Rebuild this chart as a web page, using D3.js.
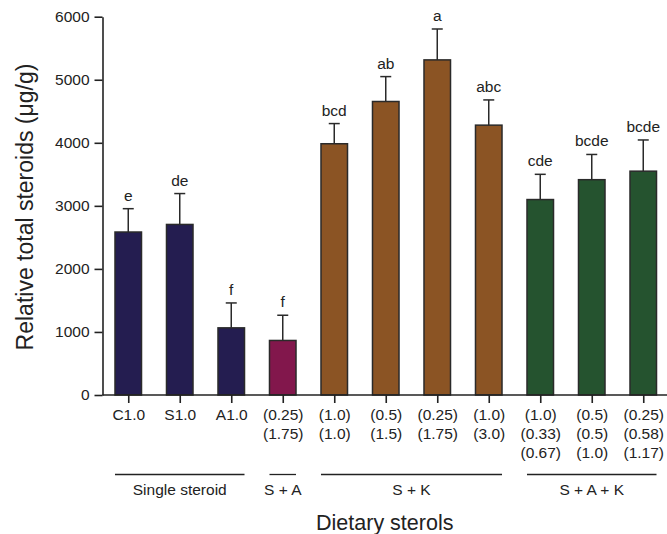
<!DOCTYPE html>
<html>
<head>
<meta charset="utf-8">
<script src="https://cdn.jsdelivr.net/npm/d3@7"></script>
<style>
  body { margin: 0; background: #fff; }
  text { font-family: "Liberation Sans", Arial, sans-serif; fill: #222; }
  .axis path, .axis line { stroke: #222; stroke-width: 1.6; }
</style>
</head>
<body>
<svg id="chart"></svg>
<script>
const width = 667, height = 534;
const margin = { top: 16.7, left: 102.5, bottom: 139, right: 0 };

const categories = ["c1", "s1", "a1", "sa1", "sk1", "sk2", "sk3", "sk4", "sak1", "sak2", "sak3"];
const tickLines = [
  ["C1.0"], ["S1.0"], ["A1.0"],
  ["(0.25)", "(1.75)"],
  ["(1.0)", "(1.0)"], ["(0.5)", "(1.5)"], ["(0.25)", "(1.75)"], ["(1.0)", "(3.0)"],
  ["(1.0)", "(0.33)", "(0.67)"], ["(0.5)", "(0.5)", "(1.0)"], ["(0.25)", "(0.58)", "(1.17)"]
];
const means = [2585, 2705, 1065, 865, 3985, 4655, 5315, 4280, 3100, 3415, 3550];
const errors = [370, 490, 395, 400, 320, 395, 490, 400, 400, 400, 495];
const letters = ["e", "de", "f", "f", "bcd", "ab", "a", "abc", "cde", "bcde", "bcde"];
const groupOf = ["single", "single", "single", "sa", "sk", "sk", "sk", "sk", "sak", "sak", "sak"];
const groups = [
  { key: "single", label: "Single steroid" },
  { key: "sa", label: "S + A" },
  { key: "sk", label: "S + K" },
  { key: "sak", label: "S + A + K" }
];
const colors = { single: "#241d50", sa: "#82174c", sk: "#8b5424", sak: "#25532f" };

const data = categories.map((c, i) => ({
  id: c, mean: means[i], err: errors[i], letter: letters[i], group: groupOf[i], lines: tickLines[i]
}));

const svg = d3.select("#chart").attr("width", width).attr("height", height);

const x = d3.scalePoint().domain(categories).range([margin.left, 669]).padding(0.5);
const barW = x.step() * 0.515;
const y = d3.scaleLinear().domain([0, 6000]).range([395, margin.top]);

// bars
svg.selectAll(".bar")
  .data(data)
  .enter()
  .append("rect")
  .attr("class", "bar")
  .attr("x", (d) => x(d.id) - barW / 2)
  .attr("y", (d) => y(d.mean))
  .attr("width", barW)
  .attr("height", (d) => y(0) - y(d.mean))
  .attr("fill", (d) => colors[d.group])
  .attr("stroke", "#2a2a2a")
  .attr("stroke-width", 1.5);

// error bars
const eb = svg.selectAll(".err").data(data).enter().append("g").attr("class", "err");
eb.append("line")
  .attr("x1", (d) => x(d.id)).attr("x2", (d) => x(d.id))
  .attr("y1", (d) => y(d.mean)).attr("y2", (d) => y(d.mean + d.err))
  .attr("stroke", "#2a2a2a").attr("stroke-width", 1.5);
eb.append("line")
  .attr("x1", (d) => x(d.id) - 5.5).attr("x2", (d) => x(d.id) + 5.5)
  .attr("y1", (d) => y(d.mean + d.err)).attr("y2", (d) => y(d.mean + d.err))
  .attr("stroke", "#2a2a2a").attr("stroke-width", 1.5);
eb.append("text")
  .attr("x", (d) => x(d.id))
  .attr("y", (d) => y(d.mean + d.err) - 8)
  .attr("text-anchor", "middle")
  .style("font-size", "15.5px")
  .text((d) => d.letter);

// y axis
const yAxis = svg.append("g")
  .attr("class", "axis")
  .attr("transform", "translate(" + margin.left + ",0)")
  .call(d3.axisLeft(y).tickValues([0, 1000, 2000, 3000, 4000, 5000, 6000])
    .tickFormat(d3.format("d")).tickSize(8).tickPadding(5).tickSizeOuter(0));
yAxis.selectAll("text").style("font-size", "15.5px").style("fill", "#222");

// x axis
const xAxis = svg.append("g")
  .attr("class", "axis")
  .attr("transform", "translate(0," + y(0) + ")")
  .call(d3.axisBottom(x).tickSize(8).tickSizeOuter(0).tickFormat(""));
xAxis.select(".domain").attr("d", "M" + margin.left + ",0H" + width);

xAxis.selectAll(".tick").each(function (id, i) {
  const t = d3.select(this).append("text")
    .attr("text-anchor", "middle")
    .style("font-size", "15.5px");
  data[i].lines.forEach((l, j) => {
    t.append("tspan").attr("x", 0).attr("y", 24.5 + j * 19).text(l);
  });
});

// group brackets
groups.forEach((g) => {
  const members = data.filter((d) => d.group === g.key);
  const x0 = x(members[0].id) - barW / 2;
  const x1 = x(members[members.length - 1].id) + barW / 2;
  svg.append("line")
    .attr("x1", x0).attr("x2", x1)
    .attr("y1", 474.5).attr("y2", 474.5)
    .attr("stroke", "#222").attr("stroke-width", 1.3);
  svg.append("text")
    .attr("x", (x0 + x1) / 2)
    .attr("y", 494.5)
    .attr("text-anchor", "middle")
    .style("font-size", "15.5px")
    .text(g.label);
});

// axis titles
svg.append("text")
  .attr("x", (margin.left + width) / 2)
  .attr("y", 529.5)
  .attr("text-anchor", "middle")
  .style("font-size", "21.5px")
  .text("Dietary sterols");

svg.append("text")
  .attr("transform", "translate(33,207) rotate(-90)")
  .attr("text-anchor", "middle")
  .style("font-size", "23px")
  .text("Relative total steroids (μg/g)");
</script>
</body>
</html>
